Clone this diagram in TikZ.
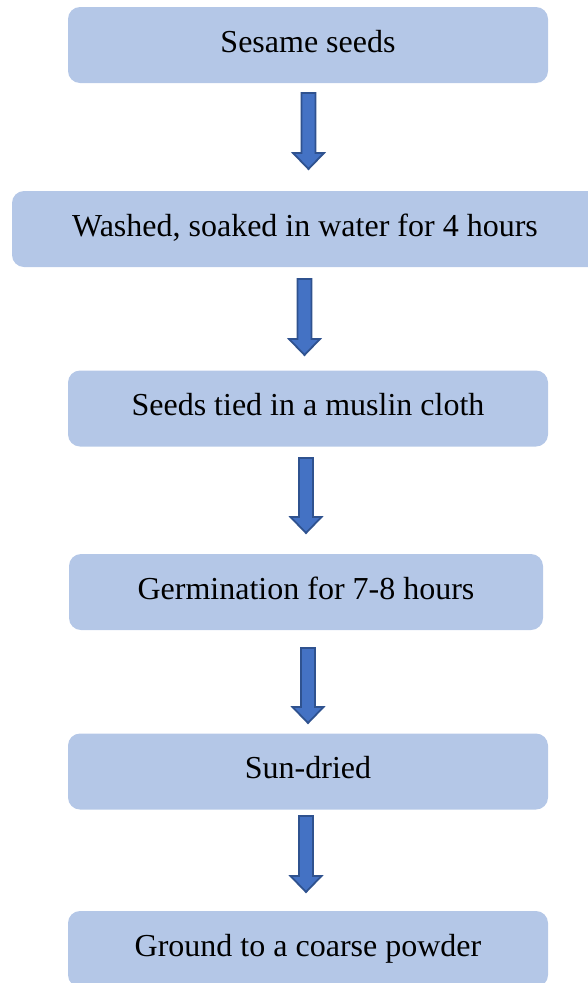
\documentclass[tikz,border=0pt]{standalone}
\usepackage{fontspec}
\setmainfont{Liberation Serif}
\usetikzlibrary{calc}
\definecolor{boxfill}{HTML}{B4C7E7}
\definecolor{arrowfill}{HTML}{4472C4}
\definecolor{arrowedge}{HTML}{2F528F}
\newcommand{\blockarrow}[2]{%
  \path[blockarrowstyle]
    let \p1=(#1), \p2=(#2) in
    (\x1-7pt,\y1) -- (\x1+7pt,\y1) -- (\x1+7pt,\y2+16pt) -- (\x1+15.5pt,\y2+16pt)
    -- (\x1,\y2) -- (\x1-15.5pt,\y2+16pt) -- (\x1-7pt,\y2+16pt) -- cycle;}
\begin{document}
\begin{tikzpicture}[x=1pt,y=-1pt,
  stepbox/.style={fill=boxfill, rounded corners=12pt, minimum height=76pt,
    inner sep=0pt, text height=14pt, text depth=0pt,
    font=\fontsize{32}{38}\selectfont},
  blockarrowstyle/.style={fill=arrowfill, draw=arrowedge, line width=1.8pt, line join=miter}]
\useasboundingbox (0,0) rectangle (588,983);
\clip (0,0) rectangle (588,983);
\node[stepbox, minimum width=480pt] (b1) at (308,45) {Sesame seeds};
\node[stepbox, minimum width=600pt] (b2) at (312,229) {\hspace*{-14pt}Washed, soaked in water for 4 hours};
\node[stepbox, minimum width=480pt] (b3) at (308,408.5) {Seeds tied in a muslin cloth};
\node[stepbox, minimum width=474pt] (b4) at (306,592) {Germination for 7-8 hours};
\node[stepbox, minimum width=480pt] (b5) at (308,771.5) {Sun-dried};
\node[stepbox, minimum width=480pt] (b6) at (308,949) {Ground to a coarse powder};
\coordinate (a1s) at (308.5,93);  \coordinate (a1e) at (308.5,169);
\coordinate (a2s) at (304.5,279); \coordinate (a2e) at (304.5,355);
\coordinate (a3s) at (306,458);   \coordinate (a3e) at (306,533);
\coordinate (a4s) at (308,648);   \coordinate (a4e) at (308,723);
\coordinate (a5s) at (306,816);   \coordinate (a5e) at (306,892);
\blockarrow{a1s}{a1e}
\blockarrow{a2s}{a2e}
\blockarrow{a3s}{a3e}
\blockarrow{a4s}{a4e}
\blockarrow{a5s}{a5e}
\end{tikzpicture}
\end{document}
